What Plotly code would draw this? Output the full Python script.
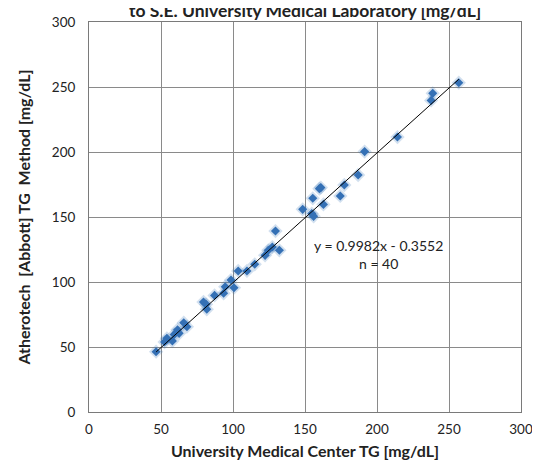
import plotly.graph_objects as go

# University Medical Center TG [mg/dL]
x_umc = [46.6, 54.1, 52.5, 57.9, 59.2, 61.5, 62.6, 65.8, 68.0,
         79.5, 81.3, 81.8, 87.2, 93.5, 94.6, 98.6, 100.7, 103.6, 109.7,
         115.1, 122.3, 124.5, 127.3, 129.5, 132.2,
         148.4, 154.7, 156.0, 155.4, 160.0, 161.0, 162.8, 174.5, 177.3,
         186.9, 191.4, 214.2, 237.6, 238.7, 256.8]
# Atherotech [Abbott] TG Method [mg/dL]
y_ath = [46.4, 56.7, 53.8, 54.6, 59.7, 63.3, 60.5, 68.7, 65.6,
         84.6, 82.8, 79.0, 89.7, 91.3, 96.4, 101.5, 95.6, 108.5, 108.5,
         113.6, 120.5, 124.4, 126.9, 139.2, 124.4,
         155.9, 152.6, 150.5, 164.4, 171.8, 172.6, 159.7, 166.2, 174.6,
         182.3, 200.3, 211.5, 239.7, 245.1, 253.3]

slope = 0.9982
intercept = -0.3552
x_ticks = [0, 50, 100, 150, 200, 250, 300]
y_ticks = [0, 50, 100, 150, 200, 250, 300]

line_x = [min(x_umc), max(x_umc)]
line_y = [slope * v + intercept for v in line_x]

FONT = "Lato, 'Open Sans', sans-serif"
GRID = "#8a8a8a"
BLUE = "#3470b5"

fig = go.Figure()
# soft halo behind markers
fig.add_trace(go.Scatter(x=x_umc, y=y_ath, mode="markers",
                         marker=dict(symbol="diamond", size=11, color=BLUE, opacity=0.22,
                                     line=dict(width=0)),
                         hoverinfo="skip", showlegend=False))
fig.add_trace(go.Scatter(x=x_umc, y=y_ath, mode="markers",
                         marker=dict(symbol="diamond", size=7, color=BLUE,
                                     line=dict(width=0)),
                         showlegend=False))
fig.add_trace(go.Scatter(x=line_x, y=line_y, mode="lines",
                         line=dict(color="black", width=1), showlegend=False))

axis_common = dict(
    range=[0, 300], tickmode="array", showgrid=True, gridcolor=GRID, gridwidth=1,
    zeroline=False, showline=True, linecolor="#7a7a7a", linewidth=1, mirror=True,
    ticks="", automargin=False, tickfont=dict(family=FONT, size=13.5, color="#222"),
)

fig.update_layout(
    width=540, height=461, autosize=False,
    paper_bgcolor="white", plot_bgcolor="white",
    margin=dict(l=81, r=27, t=14, b=57),
    xaxis=dict(**axis_common, tickvals=x_ticks, ticklabelstandoff=5,
               title=dict(text="<b>University Medical Center TG [mg/dL]</b>",
                          font=dict(family=FONT, size=16, color="#222"), standoff=9)),
    yaxis=dict(**axis_common, tickvals=y_ticks, ticklabelstandoff=10,
               title=dict(text="<b>Atherotech  [Abbott] TG  Method [mg/dL]</b>",
                          font=dict(family=FONT, size=16, color="#222"), standoff=17)),
    annotations=[
        dict(text="<b>to S.E. University Medical Laboratory [mg/dL]</b>",
             xref="paper", yref="paper", x=0.5, y=1.0, yshift=-1, xanchor="center",
             yanchor="bottom", showarrow=False,
             font=dict(family=FONT, size=17.5, color="#222")),
        dict(text="y = 0.9982x - 0.3552<br>n = 40", xref="x", yref="y",
             x=201, y=121.5, xanchor="center", yanchor="middle", showarrow=False,
             align="center", font=dict(family=FONT, size=14, color="#222")),
    ],
)

fig.write_html("out.html")
